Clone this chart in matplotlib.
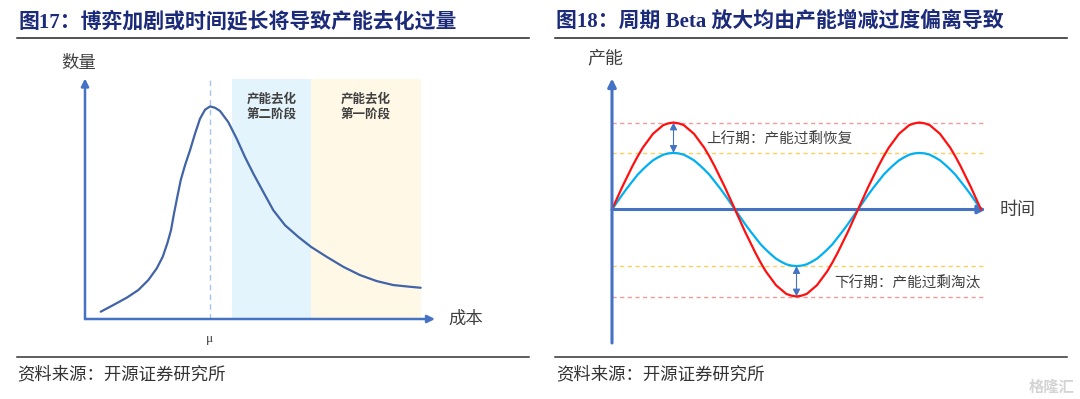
import matplotlib
matplotlib.use("Agg")
import matplotlib.pyplot as plt
from matplotlib.lines import Line2D
from matplotlib.patches import Rectangle

plt.rcParams['font.family'] = ['Noto Sans CJK SC', 'DejaVu Sans']

# ---------------- data ----------------
# Figure 17: cost-quantity curve (schematic)
cost = [4.49, 8.09, 11.91, 15.23, 18.09, 20.49, 22.2, 23.51, 24.57, 25.43, 26.37,
        27.34, 28.57, 30.0, 31.43, 32.86, 34.29, 35.71, 37.14, 38.57, 40.94, 43.34,
        45.71, 48.09, 50.94, 53.8, 57.14, 60.94, 64.57, 69.06, 73.8, 78.57, 83.34,
        88.09, 92.86, 95.91]
quantity = [3.03, 5.81, 8.84, 12.03, 16.18, 21.04, 25.85, 31.41, 36.93, 43.86, 50.75,
            57.68, 63.9, 70.12, 77.05, 83.28, 87.01, 88.38, 87.84, 86.51, 81.87, 74.98,
            67.34, 60.46, 52.82, 45.23, 39.0, 34.15, 30.0, 25.85, 21.7, 18.26, 15.77,
            14.11, 13.4, 12.99]
mu_cost = 35.7
stage2_range = (42.1, 64.6)
stage1_range = (64.6, 95.9)
stage2_label = "产能去化\n第二阶段"
stage1_label = "产能去化\n第一阶段"

# Figure 18: cycles (schematic)
t = list(range(73))
capacity_beta = [0, 0.13, 0.26, 0.38, 0.50, 0.61, 0.71, 0.79, 0.87, 0.92, 0.97, 0.99, 1.0,
                 0.99, 0.97, 0.92, 0.87, 0.79, 0.71, 0.61, 0.50, 0.38, 0.26, 0.13, 0,
                 -0.13, -0.26, -0.38, -0.50, -0.61, -0.71, -0.79, -0.87, -0.92, -0.97, -0.99, -1.0,
                 -0.99, -0.97, -0.92, -0.87, -0.79, -0.71, -0.61, -0.50, -0.38, -0.26, -0.13, 0,
                 0.13, 0.26, 0.38, 0.50, 0.61, 0.71, 0.79, 0.87, 0.92, 0.97, 0.99, 1.0,
                 0.99, 0.97, 0.92, 0.87, 0.79, 0.71, 0.61, 0.50, 0.38, 0.26, 0.13, 0]
capacity_base = [0, 0.085, 0.17, 0.25, 0.325, 0.40, 0.46, 0.515, 0.565, 0.60, 0.63, 0.645, 0.65,
                 0.645, 0.63, 0.60, 0.565, 0.515, 0.46, 0.40, 0.325, 0.25, 0.17, 0.085, 0,
                 -0.085, -0.17, -0.25, -0.325, -0.40, -0.46, -0.515, -0.565, -0.60, -0.63, -0.645, -0.65,
                 -0.645, -0.63, -0.60, -0.565, -0.515, -0.46, -0.40, -0.325, -0.25, -0.17, -0.085, 0,
                 0.085, 0.17, 0.25, 0.325, 0.40, 0.46, 0.515, 0.565, 0.60, 0.63, 0.645, 0.65,
                 0.645, 0.63, 0.60, 0.565, 0.515, 0.46, 0.40, 0.325, 0.25, 0.17, 0.085, 0]
beta_level = 1.0
base_level = 0.65
up_time = 12
down_time = 36

title17 = "图17：博弈加剧或时间延长将导致产能去化过量"
title18 = "图18：周期 Beta 放大均由产能增减过度偏离导致"
source = "资料来源：开源证券研究所"
up_text = "上行期：产能过剩恢复"
down_text = "下行期：产能过剩淘汰"

# ---------------- figure ----------------
W, H = 1080, 399
fig = plt.figure(figsize=(W / 100, H / 100), dpi=100)
fig.patch.set_facecolor('white')

def fx(px):
    return px / W

def fy(py):
    return 1 - py / H

title_color = '#1c2a7a'
axis_blue = '#4472C4'
text_gray = '#404040'
serif_cjk = ['Liberation Serif', 'Noto Sans CJK SC']

# titles
fig.text(fx(18), fy(22), title17, fontsize=15, fontweight='bold', color=title_color,
         family=serif_cjk, ha='left', va='center')
fig.text(fx(556.5), fy(22), title18, fontsize=15, fontweight='bold', color=title_color,
         family=serif_cjk, ha='left', va='center')

# rules
for (x0, x1) in [(16.5, 528.6), (554.5, 1067)]:
    fig.add_artist(Line2D([fx(x0), fx(x1)], [fy(38), fy(38)], color='#222222', lw=1.1))
    fig.add_artist(Line2D([fx(x0), fx(x1)], [fy(356.7), fy(356.7)], color='#333333', lw=1.1))

# source
fig.text(fx(17), fy(374), source, fontsize=12.5, color='#333333', ha='left', va='center')
fig.text(fx(556.5), fy(374), source, fontsize=12.5, color='#333333', ha='left', va='center')

# watermark
fig.text(fx(1074), fy(387), "格隆汇", fontsize=11, fontweight='bold', color='#d4d4d4',
         ha='right', va='center')

# ---------------- panel 1 ----------------
L1, R1, T1, B1 = 85, 435, 78.5, 319
ax1 = fig.add_axes([fx(L1), fy(B1), (R1 - L1) / W, (B1 - T1) / H])
ax1.set_xlim(0, 100)
ax1.set_ylim(0, 100)
ax1.axis('off')

ax1.add_patch(Rectangle((stage2_range[0], 0), stage2_range[1] - stage2_range[0], 100,
                        facecolor='#E3F4FC', edgecolor='none', zorder=0))
ax1.add_patch(Rectangle((stage1_range[0], 0), stage1_range[1] - stage1_range[0], 100,
                        facecolor='#FFF8E6', edgecolor='none', zorder=0))
ax1.plot([mu_cost, mu_cost], [0, 100], color='#A9C4EB', lw=1.0, dashes=(4, 3), zorder=1)
ax1.plot(cost, quantity, color='#4064A6', lw=1.6, solid_joinstyle='round',
         solid_capstyle='round', zorder=3)

arrow_kw = dict(arrowstyle='-|>', color=axis_blue, lw=1.8, mutation_scale=11,
                shrinkA=0, shrinkB=0)
ax1.annotate('', xy=(0, 100), xytext=(0, 0), arrowprops=arrow_kw, annotation_clip=False)
ax1.annotate('', xy=(100, 0), xytext=(0, 0), arrowprops=arrow_kw, annotation_clip=False)

ax1.text(-1.7, 106.6, "数量", fontsize=12.5, color=text_gray, ha='center', va='center',
         clip_on=False)
ax1.text(108.9, 0, "成本", fontsize=12.5, color=text_gray, ha='center', va='center',
         clip_on=False)
ax1.text(mu_cost, -8.5, "μ", fontsize=9.5, color=text_gray, family=['Liberation Serif'],
         ha='center', va='center', clip_on=False)
ax1.text(sum(stage2_range) / 2, 88.3, stage2_label, fontsize=9, fontweight='bold',
         color=text_gray, ha='center', va='center', linespacing=1.25)
ax1.text(sum(stage1_range) / 2, 88.3, stage1_label, fontsize=9, fontweight='bold',
         color=text_gray, ha='center', va='center', linespacing=1.25)

# ---------------- panel 2 ----------------
L2, R2, T2, B2 = 612, 986, 78.5, 343
y0px = 209.5
xs = 5.125   # px per time unit
ys = 87.0    # px per capacity unit
ax2 = fig.add_axes([fx(L2), fy(B2), (R2 - L2) / W, (B2 - T2) / H])
xmax = (R2 - L2) / xs
ax2.set_xlim(0, xmax)
ax2.set_ylim(-(B2 - y0px) / ys, (y0px - T2) / ys)
ax2.axis('off')

ax2.plot([0, xmax], [beta_level, beta_level], color='#F29A9A', lw=1.0, dashes=(3, 2.5))
ax2.plot([0, xmax], [-beta_level, -beta_level], color='#F29A9A', lw=1.0, dashes=(3, 2.5))
ax2.plot([0, xmax], [base_level, base_level], color='#F9CF5E', lw=1.0, dashes=(3, 2.5))
ax2.plot([0, xmax], [-base_level, -base_level], color='#F9CF5E', lw=1.0, dashes=(3, 2.5))

ax2.plot(t, capacity_base, color='#00B0F0', lw=1.6, solid_joinstyle='round', zorder=3)
ax2.plot(t, capacity_beta, color='#FF1010', lw=1.6, solid_joinstyle='round', zorder=4)

arrow_kw2 = dict(arrowstyle='-|>', color=axis_blue, lw=2.2, mutation_scale=12,
                 shrinkA=0, shrinkB=0)
ax2.annotate('', xy=(0, (y0px - T2) / ys), xytext=(0, -(B2 - y0px) / ys),
             arrowprops=arrow_kw2, annotation_clip=False, zorder=5)
ax2.annotate('', xy=(xmax, 0), xytext=(0, 0), arrowprops=arrow_kw2,
             annotation_clip=False, zorder=2)

darrow = dict(arrowstyle='<|-|>', color=axis_blue, lw=0.8, mutation_scale=11,
              shrinkA=0, shrinkB=0)
ax2.annotate('', xy=(up_time, beta_level), xytext=(up_time, base_level), arrowprops=darrow)
ax2.annotate('', xy=(down_time, -beta_level), xytext=(down_time, -base_level),
             arrowprops=darrow)

ax2.text((706 - L2) / xs, 0.807, up_text, fontsize=10.5, color=text_gray, ha='left',
         va='center')
ax2.text((834 - L2) / xs, -0.848, down_text, fontsize=10.5, color=text_gray, ha='left',
         va='center')
ax2.text((605.4 - L2) / xs, 1.736, "产能", fontsize=13, color=text_gray, ha='center',
         va='center', clip_on=False)
ax2.text((1018 - L2) / xs, 0, "时间", fontsize=13, color=text_gray, ha='center',
         va='center', clip_on=False)

fig.savefig("out.png", dpi=100, facecolor='white')
